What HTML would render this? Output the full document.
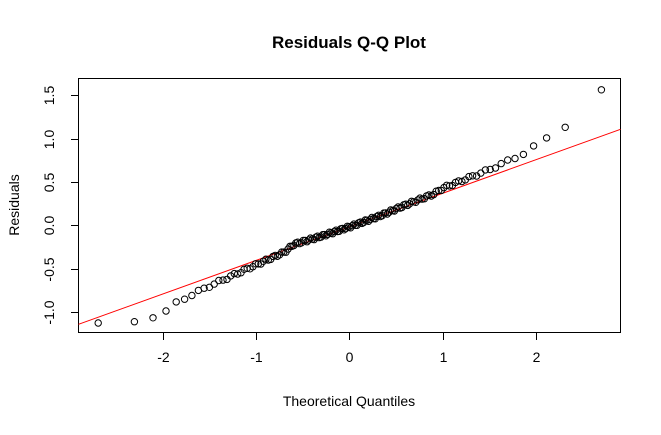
<!DOCTYPE html>
<html><head><meta charset="utf-8"><style>
body{margin:0;background:#fff;}
svg text{font-family:"Liberation Sans",Arial,sans-serif;fill:#000;}
</style></head><body>
<svg id="s" width="661" height="430" xmlns="http://www.w3.org/2000/svg">
<rect width="661" height="430" fill="#fff"/>
<text x="349" y="48" font-size="17" font-weight="bold" text-anchor="middle">Residuals Q-Q Plot</text>
<text x="349" y="406" font-size="14" text-anchor="middle">Theoretical Quantiles</text>
<text transform="translate(19,205) rotate(-90)" font-size="14" text-anchor="middle">Residuals</text>
<rect x="78.5" y="78.5" width="542" height="254" fill="none" stroke="#000" stroke-width="1"/>
<g stroke="#000" stroke-width="1">
<line x1="163.5" y1="332.5" x2="163.5" y2="340"/><line x1="256.5" y1="332.5" x2="256.5" y2="340"/>
<line x1="349.5" y1="332.5" x2="349.5" y2="340"/><line x1="443.5" y1="332.5" x2="443.5" y2="340"/>
<line x1="536.5" y1="332.5" x2="536.5" y2="340"/>
<line x1="71" y1="95.5" x2="78.5" y2="95.5"/><line x1="71" y1="139.5" x2="78.5" y2="139.5"/>
<line x1="71" y1="182.5" x2="78.5" y2="182.5"/><line x1="71" y1="225.5" x2="78.5" y2="225.5"/>
<line x1="71" y1="269.5" x2="78.5" y2="269.5"/><line x1="71" y1="312.5" x2="78.5" y2="312.5"/>
</g>
<g font-size="14" text-anchor="middle">
<text x="163.5" y="362">-2</text><text x="256.5" y="362">-1</text><text x="349.5" y="362">0</text>
<text x="443.5" y="362">1</text><text x="536.5" y="362">2</text>
<text transform="translate(54,95.5) rotate(-90)">1.5</text>
<text transform="translate(54,139.5) rotate(-90)">1.0</text>
<text transform="translate(54,182.5) rotate(-90)">0.5</text>
<text transform="translate(54,225.5) rotate(-90)">0.0</text>
<text transform="translate(54,269.5) rotate(-90)">-0.5</text>
<text transform="translate(54,312.5) rotate(-90)">-1.0</text>
</g>
<line x1="78.5" y1="324.3" x2="620.5" y2="129.3" stroke="#f00" stroke-width="1"/>
<g id="pts" fill="none" stroke="#000" stroke-width="1"></g>
</svg>
<script>
function qn(p){var a=[-39.69683028665376,220.9460984245205,-275.9285104469687,138.3577518672690,-30.66479806614716,2.506628277459239],
b=[-54.47609879822406,161.5858368580409,-155.6989798598866,66.80131188771972,-13.28068155288572],
c=[-0.007784894002430293,-0.3223964580411365,-2.400758277161838,-2.549732539343734,4.374664141464968,2.938163982698783],
d=[0.007784695709041462,0.3224671290700398,2.445134137142996,3.754408661907416];
var q,r;if(p<0.02425){q=Math.sqrt(-2*Math.log(p));return(((((c[0]*q+c[1])*q+c[2])*q+c[3])*q+c[4])*q+c[5])/((((d[0]*q+d[1])*q+d[2])*q+d[3])*q+1);}
if(p>1-0.02425){return -qn(1-p);}
q=p-0.5;r=q*q;return(((((a[0]*r+a[1])*r+a[2])*r+a[3])*r+a[4])*r+a[5])*q/(((((b[0]*r+b[1])*r+b[2])*r+b[3])*r+b[4])*r+1);}
var K=[[-2.8,-0.05],[-2.3,-0.2],[-2.0,-0.23],[-1.85,-0.15],[-1.5,-0.1],[-1.2,-0.07],[-1.0,-0.05],[-0.7,-0.02],[-0.6,0.03],[-0.3,0.01],[0,0],[0.3,0],[0.6,0.02],[0.9,0.03],[1.0,0.06],[1.5,0.08],[1.85,0.12],[2.3,0.26],[2.8,0.61]];
function dv(x){for(var i=0;i<K.length-1;i++){if(x<=K[i+1][0]){var t=(x-K[i][0])/(K[i+1][0]-K[i][0]);return K[i][1]+t*(K[i+1][1]-K[i][1]);}}return K[K.length-1][1];}
var n=144,g=document.getElementById('pts'),h='';
for(var i=1;i<=n;i++){var x=qn((i-0.5)/n);var y=-0.015+0.387*x+dv(x)+0.015*Math.sin(i*1.7);
var px=349.8+93.2*x,py=225.5-86.7*y;
h+='<circle cx="'+px.toFixed(1)+'" cy="'+py.toFixed(1)+'" r="3.2"/>';}
g.innerHTML=h;
</script>
</body></html>
